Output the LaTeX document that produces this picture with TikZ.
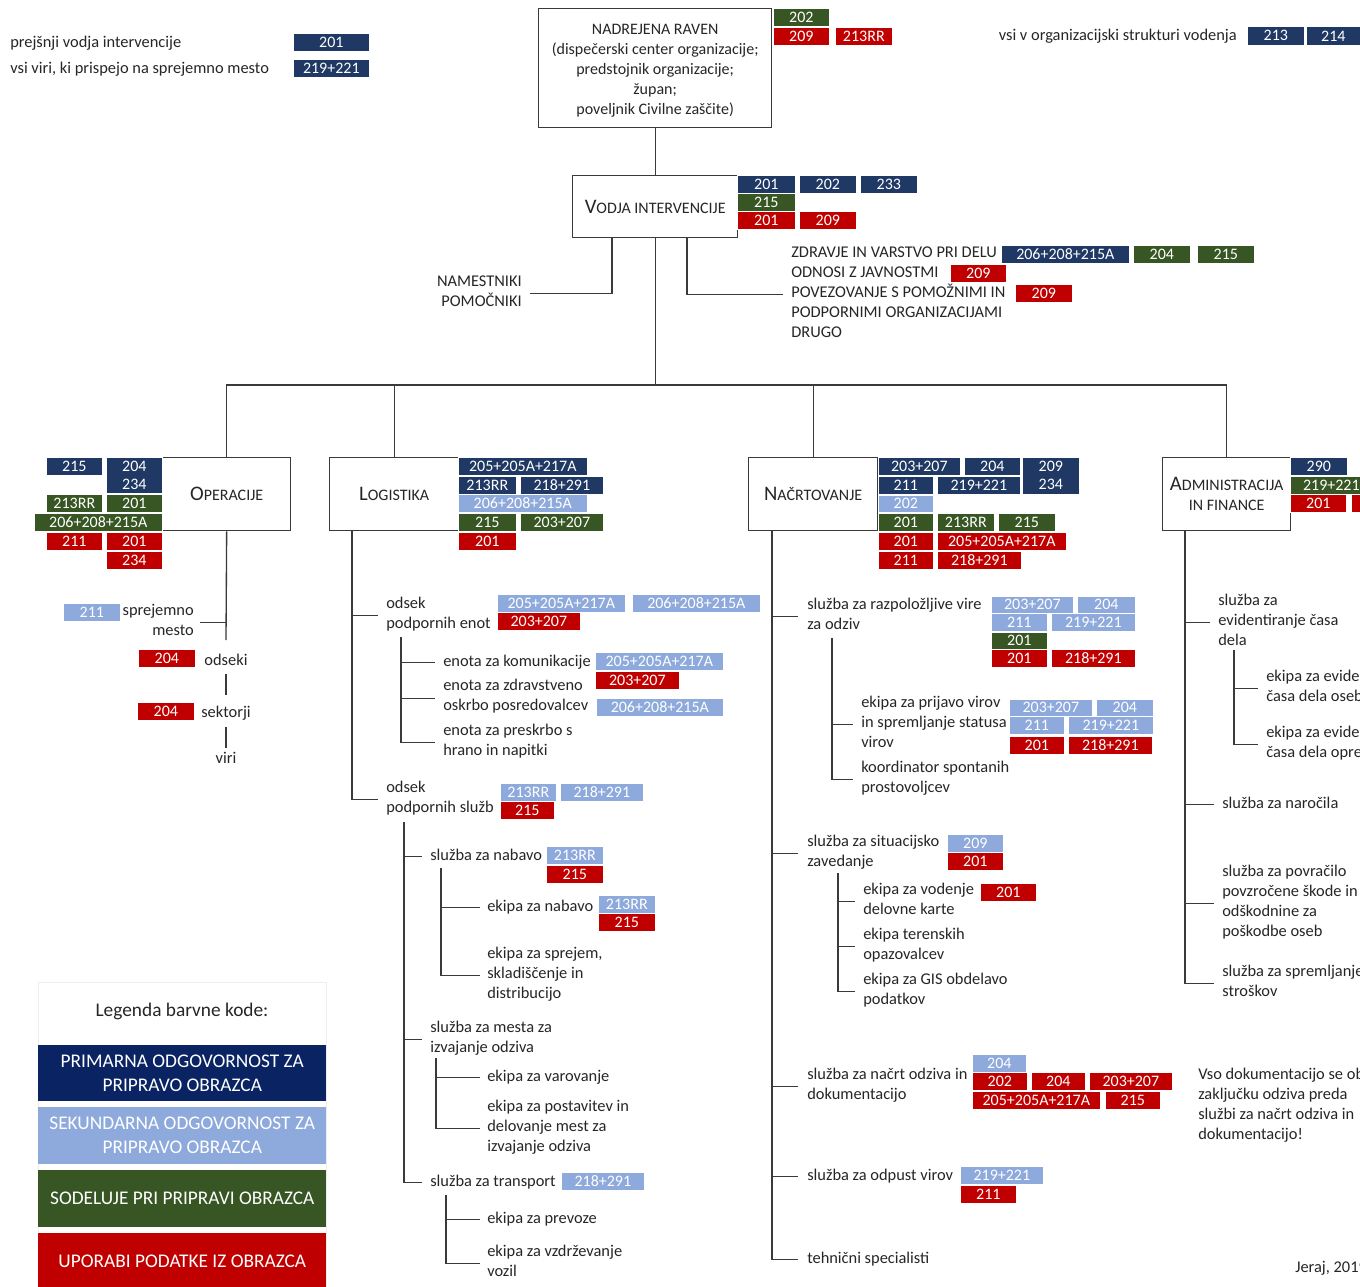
\documentclass[tikz,border=0pt]{standalone}
\usepackage{fontspec}
\setmainfont{Carlito}
\definecolor{cnavy}{HTML}{1F3864}
\definecolor{clblue}{HTML}{8EA9DB}
\definecolor{cgreen}{HTML}{375623}
\definecolor{cred}{HTML}{C00000}
\definecolor{lnavy}{HTML}{0A2463}
\definecolor{ctext}{HTML}{262626}
\definecolor{cline}{HTML}{3A3A3A}
\tikzset{
  ln/.style={draw=cline, line width=1pt},
  hbox/.style={draw=cline, line width=1pt, fill=white, inner sep=0, anchor=north west, align=center, font=\fontsize{12}{15}\selectfont, text=ctext},
  cbox/.style={inner sep=0, anchor=north west, text=white, align=center, font=\fontsize{12}{13.5}\selectfont, draw=white, line width=0.5pt},
  txt/.style={inner sep=0, anchor=west, align=left, font=\fontsize{12.3}{15}\selectfont, text=ctext, execute at begin node=\strut, execute at end node=\strut, yshift=-1.3pt},
  ml/.style={txt},
  lbar/.style={inner sep=0, anchor=north west, minimum width=216pt, text=white, align=center, font=\fontsize{14.5}{18}\selectfont},
}
\newcommand\cb[7]{\node[cbox,fill=#2,minimum width={(#5-#3)*0.75pt},minimum height={(#6-#4)*0.75pt}] (#1) at (#3,#4) {#7};}
\newcommand\hb[6]{\node[hbox,minimum width={(#4-#2)*0.75pt},minimum height={(#5-#3)*0.75pt}] (#1) at (#2,#3) {#6};}
\newcommand\bigc[1]{{\fontsize{15.5}{15}\selectfont #1}}
\newcommand\lb[5]{\node[lbar,fill=#2,minimum height={(#4-#3)*0.75pt}] (#1) at (38,#3) {#5};}
\begin{document}
\begin{tikzpicture}[x=0.75pt,y=-0.75pt]
\useasboundingbox (0,0) rectangle (1360,1286);
\fill[white] (0,0) rectangle (1360,1286);

% ---------- top notes
\node[txt] (nprej) at (10,42) {prejšnji vodja intervencije};
\node[txt] (nvsi) at (10,68) {vsi viri, ki prispejo na sprejemno mesto};
\node[txt,anchor=east] (norg) at (1237,35) {vsi v organizacijski strukturi vodenja};
\cb{cTa}{cnavy}{293}{33}{369}{51}{201}
\cb{cTb}{cnavy}{293}{59}{369}{77}{219+221}
\cb{cTc}{cnavy}{1247}{26}{1304}{45}{213}
\cb{cTd}{cnavy}{1306}{26}{1360}{45}{214}

% ---------- header boxes
\hb{nad}{538}{8}{771}{127}{\fontsize{12}{15.3}\selectfont\rule{0pt}{12pt}NADREJENA RAVEN\\(dispečerski center organizacije;\\predstojnik organizacije;\\župan;\\poveljnik Civilne zaščite)}
\hb{vodja}{572}{175}{737}{237}{\bigc{V}ODJA INTERVENCIJE}
\hb{ops}{162}{457}{290}{530}{\bigc{O}PERACIJE}
\hb{log}{329}{457}{458}{530}{\bigc{L}OGISTIKA}
\hb{nac}{748}{457}{877}{530}{\bigc{N}AČRTOVANJE}
\hb{adm}{1162}{457}{1290}{530}{\bigc{A}DMINISTRACIJA\\IN FINANCE}

% ---------- top connectors
\coordinate (hub) at (655,385);
\draw[ln] (nad.south) -- (vodja.north);
\draw[ln] (vodja.south) -- (vodja.south |- hub);
\draw[ln] (ops.north) -- (ops.north |- hub) -- (adm.north |- hub) -- (adm.north);
\draw[ln] (log.north) -- (log.north |- hub);
\draw[ln] (nac.north) -- (nac.north |- hub);

\node[ml,anchor=east,align=right] (nam) at (522,292) {NAMESTNIKI\\POMOČNIKI\strut};
\coordinate (vl) at (612,292);
\draw[ln] (vodja.south -| vl) |- ([xshift=6pt]nam.east);
\node[ml] (staff) at (791,293) {ZDRAVJE IN VARSTVO PRI DELU\\ODNOSI Z JAVNOSTMI\\POVEZOVANJE S POMOŽNIMI IN\\PODPORNIMI ORGANIZACIJAMI\\DRUGO\strut};
\coordinate (vr) at (687,293);
\draw[ln] (vodja.south -| vr) |- ([xshift=-6pt]staff.west);

% ---------- code boxes: nadrejena, vodja, staff
\cb{cN1}{cgreen}{773}{8}{829}{26}{202}
\cb{cN2}{cred}{773}{27}{829}{45}{209}
\cb{cN3}{cred}{835}{27}{892}{45}{213RR}
\cb{cV1}{cnavy}{737}{175}{795}{193}{201}
\cb{cV2}{cnavy}{799}{175}{856}{193}{202}
\cb{cV3}{cnavy}{860}{175}{917}{193}{233}
\cb{cV4}{cgreen}{737}{193}{795}{211}{215}
\cb{cV5}{cred}{737}{211}{795}{229}{201}
\cb{cV6}{cred}{799}{211}{856}{229}{209}
\cb{cS1}{cnavy}{1001}{245}{1129}{263}{206+208+215A}
\cb{cS2}{cgreen}{1133}{245}{1190}{263}{204}
\cb{cS3}{cgreen}{1197}{245}{1254}{263}{215}
\cb{cS4}{cred}{950}{264}{1006}{282}{209}
\cb{cS5}{cred}{1015}{284}{1072}{302}{209}

% ---------- OPERACIJE
\cb{cO1}{cnavy}{46}{457}{102}{475}{215}
\cb{cO2}{cnavy}{106}{457}{162}{493}{204\\234}
\cb{cO3}{cgreen}{46}{494}{102}{512}{213RR}
\cb{cO4}{cgreen}{106}{494}{162}{512}{201}
\cb{cO5}{cgreen}{34}{513}{162}{531}{206+208+215A}
\cb{cO6}{cred}{46}{532}{102}{550}{211}
\cb{cO7}{cred}{106}{532}{162}{550}{201}
\cb{cO8}{cred}{106}{551}{162}{569}{234}
\node[ml,anchor=east,align=right] (spr) at (194,621) {sprejemno\\mesto\strut};
\coordinate (oend) at (226,640);
\draw[ln] (ops.south) -- (oend);
\draw[ln] (ops.south |- spr.east) -- ([xshift=4.5pt]spr.east);
\node[txt,anchor=center] (ods) at (226,660) {odseki};
\node[txt,anchor=center] (sek) at (226,712) {sektorji};
\node[txt,anchor=center] (viri) at (226,758) {viri};
\draw[ln,shorten <=1.5pt,shorten >=6.5pt] (ods.south) -- (sek.north);
\draw[ln,shorten <=2pt,shorten >=1pt] (sek.south) -- (viri.north);
\cb{cO9}{clblue}{63}{603}{120}{621}{211}
\cb{cO10}{cred}{138}{649}{195}{667}{204}
\cb{cO11}{cred}{137}{702}{194}{720}{204}

% ---------- LOGISTIKA
\cb{cL1}{cnavy}{458}{457}{587}{475}{205+205A+217A}
\cb{cL2}{cnavy}{458}{476}{516}{494}{213RR}
\cb{cL3}{cnavy}{520}{476}{603}{494}{218+291}
\cb{cL4}{clblue}{458}{494}{587}{512}{206+208+215A}
\cb{cL5}{cgreen}{458}{513}{516}{531}{215}
\cb{cL6}{cgreen}{520}{513}{603}{531}{203+207}
\cb{cL7}{cred}{458}{532}{516}{550}{201}

\coordinate (lg) at (352,799);
\node[ml] (le1) at (386,614) {odsek\\podpornih enot\strut};
\node[ml] (le2) at (386,798) {odsek\\podpornih služb\strut};
\draw[ln] (log.south -| lg) |- ([xshift=-6pt]le2.west);
\draw[ln] (lg |- le1.west) -- ([xshift=-6pt]le1.west);

\coordinate (ls1) at (401,637);
\node[txt] (e1) at (443,661) {enota za komunikacije};
\node[ml] (e2) at (443,696.5) {enota za zdravstveno\\oskrbo posredovalcev\strut};
\node[ml] (e3) at (443,741) {enota za preskrbo s\\hrano in napitki\strut};
\draw[ln] (ls1) |- ([xshift=-6pt]e3.west);
\draw[ln] (ls1 |- e1.west) -- ([xshift=-6pt]e1.west);
\draw[ln] (ls1 |- e2.west) -- ([xshift=-6pt]e2.west);

\coordinate (ls2) at (404,822);
\node[txt] (s1) at (430,855) {služba za nabavo};
\node[ml] (s2) at (430,1038) {služba za mesta za\\izvajanje odziva\strut};
\node[txt] (s3) at (430,1181) {služba za transport};
\draw[ln] (ls2) |- ([xshift=-6pt]s3.west);
\draw[ln] (ls2 |- s1.west) -- ([xshift=-6pt]s1.west);
\draw[ln] (ls2 |- s2.west) -- ([xshift=-6pt]s2.west);

\coordinate (ls3) at (441,868);
\node[txt] (t1) at (487,906) {ekipa za nabavo};
\node[ml] (t2) at (487,974) {ekipa za sprejem,\\skladiščenje in\\distribucijo\strut};
\draw[ln] (ls3) |- ([xshift=-5pt]t2.west);
\draw[ln] (ls3 |- t1.west) -- ([xshift=-5pt]t1.west);

\coordinate (ls4) at (436,1058);
\node[txt] (t3) at (487,1076) {ekipa za varovanje};
\node[ml] (t4) at (487,1127) {ekipa za postavitev in\\delovanje mest za\\izvajanje odziva\strut};
\draw[ln] (ls4) |- ([xshift=-5pt]t4.west);
\draw[ln] (ls4 |- t3.west) -- ([xshift=-5pt]t3.west);

\coordinate (ls5) at (446,1195);
\node[txt] (t5) at (487,1218) {ekipa za prevoze};
\node[ml] (t6) at (487,1262) {ekipa za vzdrževanje\\vozil\strut};
\draw[ln] (ls5) |- ([xshift=-5pt]t6.west);
\draw[ln] (ls5 |- t5.west) -- ([xshift=-5pt]t5.west);

\cb{cL8}{clblue}{497}{594}{625}{612}{205+205A+217A}
\cb{cL9}{clblue}{632}{594}{760}{612}{206+208+215A}
\cb{cL10}{cred}{497}{612}{580}{630}{203+207}
\cb{cL11}{clblue}{595}{652}{723}{670}{205+205A+217A}
\cb{cL12}{cred}{595}{671}{679}{689}{203+207}
\cb{cL13}{clblue}{596}{698}{723}{716}{206+208+215A}
\cb{cL14}{clblue}{500}{783}{556}{801}{213RR}
\cb{cL15}{clblue}{560}{783}{643}{801}{218+291}
\cb{cL16}{cred}{500}{801}{554}{819}{215}
\cb{cL17}{clblue}{546}{846}{603}{864}{213RR}
\cb{cL18}{cred}{546}{865}{603}{883}{215}
\cb{cL19}{clblue}{598}{895}{655}{913}{213RR}
\cb{cL20}{cred}{598}{913}{655}{931}{215}
\cb{cL21}{clblue}{561}{1172}{644}{1190}{218+291}

% ---------- NACRTOVANJE
\cb{cP1}{cnavy}{878}{457}{960}{475}{203+207}
\cb{cP2}{cnavy}{964}{457}{1020}{475}{204}
\cb{cP3}{cnavy}{1022}{457}{1079}{494}{209\\234}
\cb{cP4}{cnavy}{878}{476}{933}{494}{211}
\cb{cP5}{cnavy}{937}{476}{1020}{494}{219+221}
\cb{cP6}{clblue}{878}{495}{933}{512}{202}
\cb{cP7}{cgreen}{878}{513}{933}{531}{201}
\cb{cP8}{cgreen}{937}{513}{994}{531}{213RR}
\cb{cP9}{cgreen}{998}{513}{1055}{531}{215}
\cb{cP10}{cred}{878}{532}{933}{550}{201}
\cb{cP11}{cred}{937}{532}{1066}{550}{205+205A+217A}
\cb{cP12}{cred}{878}{551}{933}{569}{211}
\cb{cP13}{cred}{937}{551}{1021}{569}{218+291}

\coordinate (ng) at (772,1258);
\node[ml] (n1) at (807,615) {služba za razpoložljive vire\\za odziv\strut};
\node[ml] (n2) at (807,852) {služba za situacijsko\\zavedanje\strut};
\node[ml] (n3) at (807,1085) {služba za načrt odziva in\\dokumentacijo\strut};
\node[txt] (n4) at (807,1175) {služba za odpust virov};
\node[txt] (n5) at (807,1258) {tehnični specialisti};
\draw[ln] (nac.south -| ng) |- ([xshift=-6.5pt]n5.west);
\draw[ln] (ng |- n1.west) -- ([xshift=-6.5pt]n1.west);
\draw[ln] (ng |- n2.west) -- ([xshift=-6.5pt]n2.west);
\draw[ln] (ng |- n3.west) -- ([xshift=-6.5pt]n3.west);
\draw[ln] (ng |- n4.west) -- ([xshift=-6.5pt]n4.west);

\coordinate (ns1) at (832,638);
\node[ml] (n1a) at (861,723) {ekipa za prijavo virov\\in spremljanje statusa\\virov\strut};
\node[ml] (n1b) at (861,778) {koordinator spontanih\\prostovoljcev\strut};
\draw[ln] (ns1) |- ([xshift=-6pt]n1b.west);
\draw[ln] (ns1 |- n1a.west) -- ([xshift=-6pt]n1a.west);

\coordinate (ns2) at (838,873);
\node[ml] (n2a) at (863,900) {ekipa za vodenje\\delovne karte\strut};
\node[ml] (n2b) at (863,945) {ekipa terenskih\\opazovalcev\strut};
\node[ml] (n2c) at (863,990) {ekipa za GIS obdelavo\\podatkov\strut};
\draw[ln] (ns2) |- ([xshift=-6pt]n2c.west);
\draw[ln] (ns2 |- n2a.west) -- ([xshift=-6pt]n2a.west);
\draw[ln] (ns2 |- n2b.west) -- ([xshift=-6pt]n2b.west);

\cb{cP14}{clblue}{991}{596}{1073}{613}{203+207}
\cb{cP15}{clblue}{1077}{596}{1135}{613}{204}
\cb{cP16}{clblue}{991}{613}{1047}{631}{211}
\cb{cP17}{clblue}{1051}{613}{1135}{631}{219+221}
\cb{cP18}{cgreen}{991}{632}{1047}{649}{201}
\cb{cP19}{cred}{991}{649}{1047}{667}{201}
\cb{cP20}{cred}{1051}{649}{1135}{667}{218+291}
\cb{cP21}{clblue}{1009}{699}{1092}{716}{203+207}
\cb{cP22}{clblue}{1096}{699}{1153}{716}{204}
\cb{cP23}{clblue}{1009}{716}{1064}{734}{211}
\cb{cP24}{clblue}{1068}{716}{1153}{734}{219+221}
\cb{cP25}{cred}{1009}{736}{1064}{754}{201}
\cb{cP26}{cred}{1068}{736}{1152}{754}{218+291}
\cb{cP27}{clblue}{947}{834}{1003}{852}{209}
\cb{cP28}{cred}{947}{852}{1003}{870}{201}
\cb{cP29}{cred}{980}{883}{1036}{901}{201}
\cb{cP30}{clblue}{972}{1054}{1026}{1072}{204}
\cb{cP31}{cred}{972}{1072}{1027}{1090}{202}
\cb{cP32}{cred}{1031}{1072}{1085}{1090}{204}
\cb{cP33}{cred}{1089}{1072}{1172}{1090}{203+207}
\cb{cP34}{cred}{972}{1091}{1100}{1109}{205+205A+217A}
\cb{cP35}{cred}{1105}{1091}{1160}{1109}{215}
\cb{cP36}{clblue}{960}{1166}{1043}{1184}{219+221}
\cb{cP37}{cred}{960}{1185}{1016}{1203}{211}

% ---------- ADMINISTRACIJA
\cb{cA1}{cnavy}{1290}{457}{1347}{475}{290}
\cb{cA2}{cgreen}{1290}{476}{1372}{494}{219+221}
\cb{cA3}{cred}{1290}{494}{1346}{512}{201}
\cb{cA4}{cred}{1351}{494}{1408}{512}{}

\coordinate (ag) at (1185,982);
\node[ml] (a1) at (1218,621) {služba za\\evidentiranje časa\\dela\strut};
\node[txt] (a2) at (1222,803) {služba za naročila};
\node[ml] (a3) at (1222,902) {služba za povračilo\\povzročene škode in\\odškodnine za\\poškodbe oseb\strut};
\node[ml] (a4) at (1222,982) {služba za spremljanje\\stroškov\strut};
\draw[ln] (adm.south -| ag) |- ([xshift=-6pt]a4.west);
\draw[ln] (ag |- a1.west) -- ([xshift=-6pt]a1.west);
\draw[ln] (ag |- a2.west) -- ([xshift=-6pt]a2.west);
\draw[ln] (ag |- a3.west) -- ([xshift=-6pt]a3.west);

\coordinate (as1) at (1234,650);
\node[ml] (a1a) at (1266,687) {ekipa za evidentiranje\\časa dela osebja\strut};
\node[ml] (a1b) at (1266,743) {ekipa za evidentiranje\\časa dela opreme\strut};
\draw[ln] (as1) |- ([xshift=-6pt]a1b.west);
\draw[ln] (as1 |- a1a.west) -- ([xshift=-6pt]a1a.west);

\node[ml] (docs) at (1198,1105) {Vso dokumentacijo se ob\\zaključku odziva preda\\službi za načrt odziva in\\dokumentacijo!\strut};
\node[txt] (jeraj) at (1295,1267) {Jeraj, 2019};

% ---------- legend
\node[draw=black!7, line width=0.6pt, fill=white, anchor=north west, inner sep=0, minimum width=216pt, minimum height=228pt] (legbox) at (38,982) {};
\node[font=\fontsize{14.5}{18}\selectfont, text=ctext, inner sep=0] (legt) at (182,1011) {Legenda barvne kode:};
\lb{lb1}{lnavy}{1045}{1101}{PRIMARNA ODGOVORNOST ZA\\PRIPRAVO OBRAZCA}
\lb{lb2}{clblue}{1107}{1164}{SEKUNDARNA ODGOVORNOST ZA\\PRIPRAVO OBRAZCA}
\lb{lb3}{cgreen}{1170}{1227}{SODELUJE PRI PRIPRAVI OBRAZCA}
\lb{lb4}{cred}{1233}{1290}{UPORABI PODATKE IZ OBRAZCA}
\end{tikzpicture}
\end{document}
